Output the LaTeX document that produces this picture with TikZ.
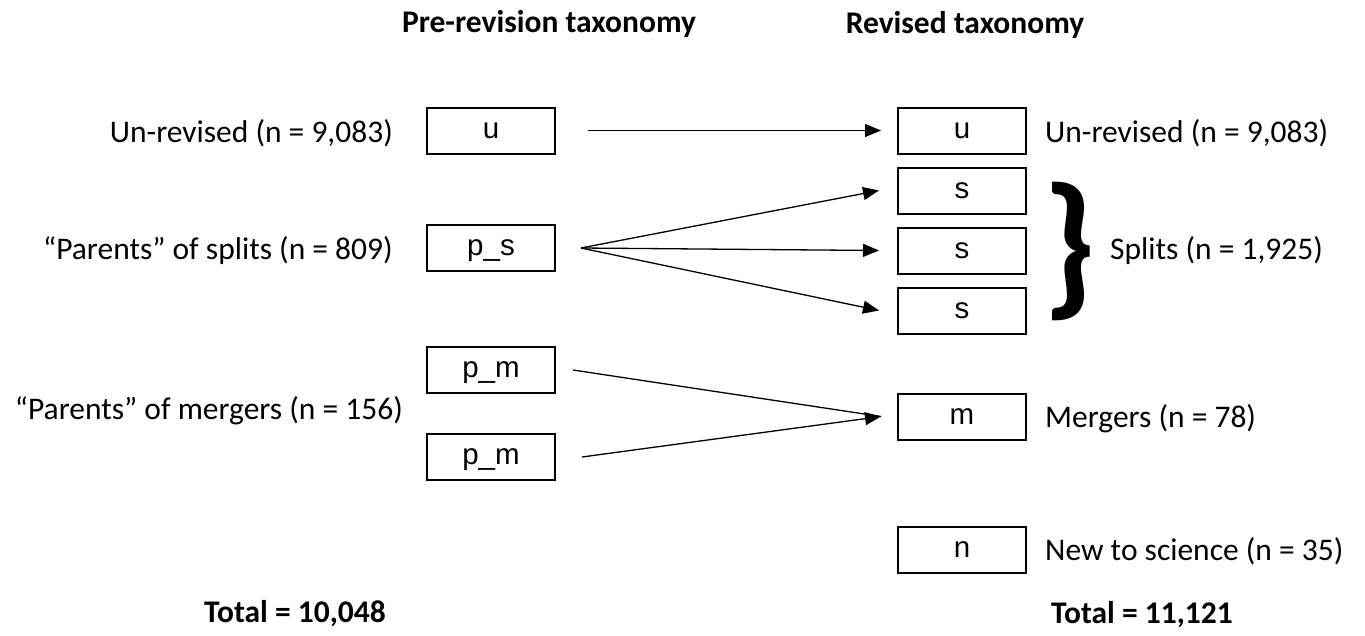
\documentclass[tikz,border=0pt]{standalone}
\usepackage{fontspec}
\setmainfont{Carlito}
\newfontfamily\boxfont{Liberation Sans}
\usetikzlibrary{arrows.meta}
\begin{document}
\begin{tikzpicture}[x=1pt,y=-1pt,
  lbl/.style={font=\fontsize{31.5}{36}\selectfont, inner sep=0pt},
  ttl/.style={font=\fontsize{31.5}{36}\selectfont\bfseries, inner sep=0pt},
  tbox/.style={draw, line width=2pt, minimum width=128pt, minimum height=46pt, inner sep=0pt,
    text height=15.3pt, text depth=0pt, font=\boxfont\fontsize{29.5}{34}\selectfont},
  arr/.style={line width=1.3pt, -{Triangle[length=16pt,width=13pt]}}]
\useasboundingbox (0,0) rectangle (1365,635);

% titles
\node[ttl, anchor=base] (t1) at (549,32) {Pre-revision taxonomy};
\node[ttl, anchor=base] (t2) at (965,33) {Revised taxonomy};

% left boxes
\node[tbox] (lu) at (491,130.5) {u};
\node[tbox] (ps) at (491,248) {p\_s};
\node[tbox] (pm1) at (491,370) {p\_m};
\node[tbox] (pm2) at (491,457) {p\_m};

% right boxes
\node[tbox] (ru) at (962,130.5) {u};
\node[tbox] (s1) at (962,190.5) {s};
\node[tbox] (s2) at (962,250.5) {s};
\node[tbox] (s3) at (962,310.5) {s};
\node[tbox] (m) at (962,416.5) {m};
\node[tbox] (n) at (962,550) {n};

% left labels
\node[lbl, anchor=base east] (l1) at (393,142) {Un-revised (n = 9,083)};
\node[lbl, anchor=base east] (l2) at (393,259) {“Parents” of splits (n = 809)};
\node[lbl, anchor=base east] (l3) at (403,419) {“Parents” of mergers (n = 156)};

% right labels
\node[lbl, anchor=base west] (r1) at (1045,142) {Un-revised (n = 9,083)};
\node[lbl, anchor=base west] (r2) at (1110,259) {Splits (n = 1,925)};
\node[lbl, anchor=base west] (r3) at (1045,427) {Mergers (n = 78)};
\node[lbl, anchor=base west] (r4) at (1045,560) {New to science (n = 35)};

% brace
\node[inner sep=0pt, font=\fontsize{158}{158}\selectfont\bfseries] (br) at (1070,251.5) {\}};

% totals
\node[ttl, anchor=base] (tot1) at (295,622) {Total = 10,048};
\node[ttl, anchor=base] (tot2) at (1142,623) {Total = 11,121};

% arrows
\draw[arr] ([xshift=32pt]lu.east) -- ([xshift=-16pt]ru.west);
\coordinate (po) at ([xshift=25pt]ps.east);
\draw[arr] (po) -- ([xshift=-18pt]s1.west);
\draw[arr] (po) -- ([xshift=-18pt]s2.west);
\draw[arr] (po) -- ([xshift=-18pt]s3.west);
\draw[line width=1.3pt] ([xshift=17pt]pm1.east) -- ([xshift=-16pt]m.west);
\draw[arr] ([xshift=26pt]pm2.east) -- ([xshift=-16pt]m.west);
\end{tikzpicture}
\end{document}
